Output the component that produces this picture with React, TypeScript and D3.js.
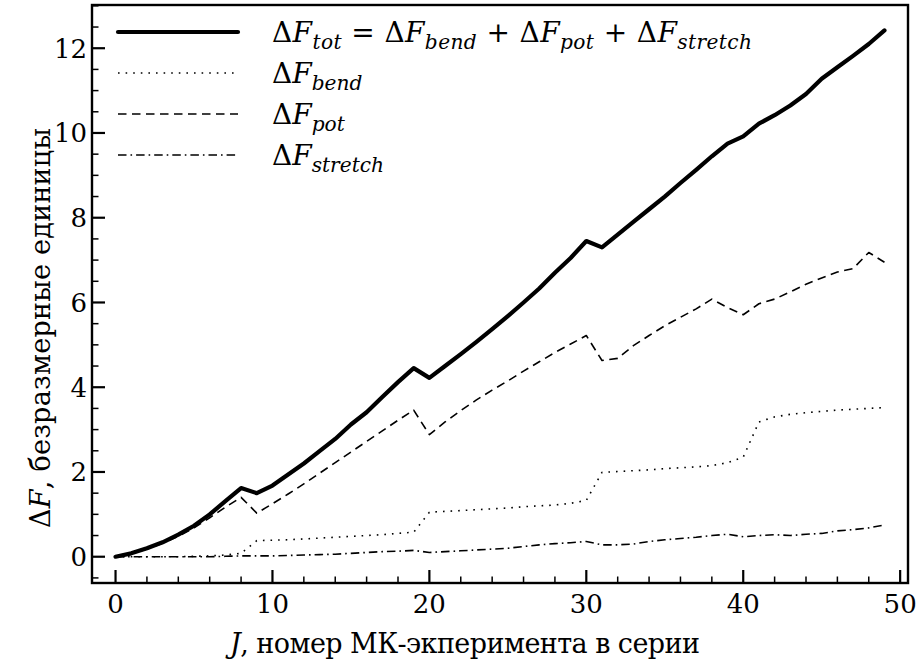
import React from "react";
import * as d3 from "d3";

// номер МК-эксперимента
const J = d3.range(0, 50);

const fTot = [
  0, 0.08, 0.2, 0.34, 0.52, 0.73, 1.0, 1.31, 1.62, 1.5,
  1.68, 1.94, 2.2, 2.49, 2.78, 3.12, 3.41, 3.77, 4.12, 4.45,
  4.22, 4.5, 4.78, 5.07, 5.37, 5.68, 6.0, 6.33, 6.7, 7.05,
  7.45, 7.3, 7.6, 7.9, 8.2, 8.5, 8.82, 9.13, 9.45, 9.75,
  9.92, 10.22, 10.42, 10.65, 10.92, 11.28, 11.55, 11.82, 12.1, 12.42,
];
const fBend = [
  0, 0, 0, 0, 0, 0.01, 0.02, 0.04, 0.08, 0.38,
  0.39, 0.4, 0.42, 0.44, 0.46, 0.48, 0.5, 0.52, 0.55, 0.58,
  1.05, 1.07, 1.09, 1.11, 1.13, 1.15, 1.18, 1.2, 1.22, 1.26,
  1.33, 1.99, 2.01, 2.03, 2.05, 2.08, 2.1, 2.12, 2.15, 2.22,
  2.35, 3.18, 3.3, 3.36, 3.4, 3.43, 3.46, 3.48, 3.5, 3.52,
];
const fPot = [
  0, 0.07, 0.18, 0.32, 0.48, 0.68, 0.92, 1.17, 1.4, 1.03,
  1.25, 1.48, 1.72, 1.97, 2.22, 2.47, 2.72, 2.97, 3.22, 3.46,
  2.88, 3.18, 3.45, 3.7, 3.93, 4.15, 4.38, 4.6, 4.82, 5.02,
  5.22, 4.63, 4.68, 4.98, 5.22, 5.45, 5.65, 5.85, 6.08, 5.88,
  5.71, 5.97, 6.08, 6.25, 6.43, 6.58, 6.72, 6.8, 7.18, 6.95,
];
const fStretch = [
  0, 0, 0, 0, 0, 0, 0, 0.01, 0.02, 0.02,
  0.02, 0.03, 0.04, 0.05, 0.06, 0.08, 0.1, 0.12, 0.13, 0.15,
  0.1, 0.12, 0.14, 0.16, 0.18, 0.2, 0.24, 0.28, 0.31, 0.33,
  0.36, 0.28, 0.28, 0.3, 0.36, 0.4, 0.43, 0.46, 0.5, 0.53,
  0.47, 0.5, 0.52, 0.5, 0.53, 0.55, 0.61, 0.64, 0.68, 0.75,
];

const xTicks = [0, 10, 20, 30, 40, 50];
const yTicks = [0, 2, 4, 6, 8, 10, 12];

const W = 922;
const H = 666;
const box = { left: 92, right: 908, top: 5, bottom: 583 };
const FONT = "DejaVu Serif";

type Part = { t: string; it?: boolean; sub?: boolean };

const MathText = ({
  x,
  y,
  parts,
  size,
  anchor = "start",
  transform,
  length,
}: {
  x: number;
  y: number;
  parts: Part[];
  size: number;
  anchor?: string;
  transform?: string;
  length?: number;
}) => {
  let prevSub = false;
  const shift = size * 0.24;
  return (
    <text
      x={x}
      y={y}
      fontSize={size}
      textAnchor={anchor}
      transform={transform}
      fontFamily={FONT}
      textLength={length}
      lengthAdjust={length ? "spacing" : undefined}
      style={{ whiteSpace: "pre" }}
    >
      {parts.map((p, i) => {
        let dy = 0;
        if (p.sub && !prevSub) dy = shift;
        if (!p.sub && prevSub) dy = -shift;
        prevSub = !!p.sub;
        return (
          <tspan
            key={i}
            dy={dy}
            fontStyle={p.it ? "italic" : "normal"}
            fontSize={p.sub ? size * 0.72 : size}
          >
            {p.t}
          </tspan>
        );
      })}
    </text>
  );
};

const series = [
  {
    name: "tot",
    values: fTot,
    width: 4.2,
    dash: undefined as string | undefined,
    label: [
      { t: "Δ" }, { t: "F", it: true }, { t: "tot", it: true, sub: true },
      { t: " = Δ" }, { t: "F", it: true }, { t: "bend", it: true, sub: true },
      { t: " + Δ" }, { t: "F", it: true }, { t: "pot", it: true, sub: true },
      { t: " + Δ" }, { t: "F", it: true }, { t: "stretch", it: true, sub: true },
    ] as Part[],
    length: 480 as number | undefined,
  },
  {
    name: "bend",
    values: fBend,
    width: 1.6,
    dash: "1.6,6",
    label: [{ t: "Δ" }, { t: "F", it: true }, { t: "bend", it: true, sub: true }] as Part[],
    length: undefined,
  },
  {
    name: "pot",
    values: fPot,
    width: 1.6,
    dash: "8.5,5.5",
    label: [{ t: "Δ" }, { t: "F", it: true }, { t: "pot", it: true, sub: true }] as Part[],
    length: undefined,
  },
  {
    name: "stretch",
    values: fStretch,
    width: 1.6,
    dash: "8.5,4,1.6,4",
    label: [{ t: "Δ" }, { t: "F", it: true }, { t: "stretch", it: true, sub: true }] as Part[],
    length: undefined,
  },
];

export default function App() {
  const x = d3.scaleLinear([-1.5, 50.5], [box.left, box.right]);
  const y = d3.scaleLinear([-0.62, 13.02], [box.bottom, box.top]);
  const xMinor = d3.range(0, 51, 2).filter((v) => v % 10 !== 0);
  const yMinor = d3.range(-0.5, 13.01, 0.5).filter((v) => v % 2 !== 0);

  const line = d3
    .line<number>()
    .x((_, i) => x(J[i]))
    .y((d) => y(d));

  const tickSize = 26;
  const labelSize = 27;
  const legendSize = 28;

  return (
    <svg
      width={W}
      height={H}
      style={{ position: "absolute", left: 0, top: 0, background: "#fff" }}
    >
      <rect width={W} height={H} fill="#fff" />

      {series
        .slice()
        .reverse()
        .map((s) => (
          <path
            key={s.name}
            d={line(s.values) || ""}
            fill="none"
            stroke="#000"
            strokeWidth={s.width}
            strokeDasharray={s.dash}
            strokeLinejoin="round"
            strokeLinecap={s.dash ? "butt" : "round"}
          />
        ))}

      {/* ticks, inward */}
      {xTicks.map((t) => (
        <line key={"xt" + t} x1={x(t)} x2={x(t)} y1={box.bottom} y2={box.bottom - 13} stroke="#000" strokeWidth={2.2} />
      ))}
      {xMinor.map((t) => (
        <line key={"xm" + t} x1={x(t)} x2={x(t)} y1={box.bottom} y2={box.bottom - 6.5} stroke="#000" strokeWidth={1.5} />
      ))}
      {yTicks.map((t) => (
        <line key={"yt" + t} x1={box.left} x2={box.left + 13} y1={y(t)} y2={y(t)} stroke="#000" strokeWidth={2.2} />
      ))}
      {yMinor.map((t) => (
        <line key={"ym" + t} x1={box.left} x2={box.left + 6.5} y1={y(t)} y2={y(t)} stroke="#000" strokeWidth={1.5} />
      ))}

      <rect
        x={box.left}
        y={box.top}
        width={box.right - box.left}
        height={box.bottom - box.top}
        fill="none"
        stroke="#000"
        strokeWidth={2.4}
      />

      {xTicks.map((t) => (
        <text key={"xl" + t} x={x(t)} y={box.bottom + 30} textAnchor="middle" fontSize={tickSize} fontFamily={FONT}>
          {t}
        </text>
      ))}
      {yTicks.map((t) => (
        <text key={"yl" + t} x={box.left - 5} y={y(t) + 9.5} textAnchor="end" fontSize={tickSize} fontFamily={FONT}>
          {t}
        </text>
      ))}

      <text
        x={465}
        y={653}
        textAnchor="middle"
        fontSize={labelSize}
        fontFamily={FONT}
        textLength={470}
        lengthAdjust="spacing"
      >
        <tspan fontStyle="italic">J</tspan>, номер МК-экперимента в серии
      </text>
      <MathText
        x={0}
        y={0}
        parts={[{ t: "Δ" }, { t: "F", it: true }, { t: ", безразмерные единицы" }]}
        size={labelSize}
        anchor="middle"
        transform={`translate(50,328) rotate(-90)`}
        length={400}
      />

      {/* legend */}
      {series.map((s, i) => {
        const ly = 32 + i * 41;
        return (
          <g key={"lg" + s.name}>
            <line
              x1={118}
              x2={238}
              y1={ly}
              y2={ly}
              stroke="#000"
              strokeWidth={s.width}
              strokeDasharray={s.dash}
              strokeLinecap={s.dash ? "butt" : "round"}
            />
            <MathText x={272} y={ly + 10} parts={s.label} size={legendSize} length={s.length} />
          </g>
        );
      })}
    </svg>
  );
}
